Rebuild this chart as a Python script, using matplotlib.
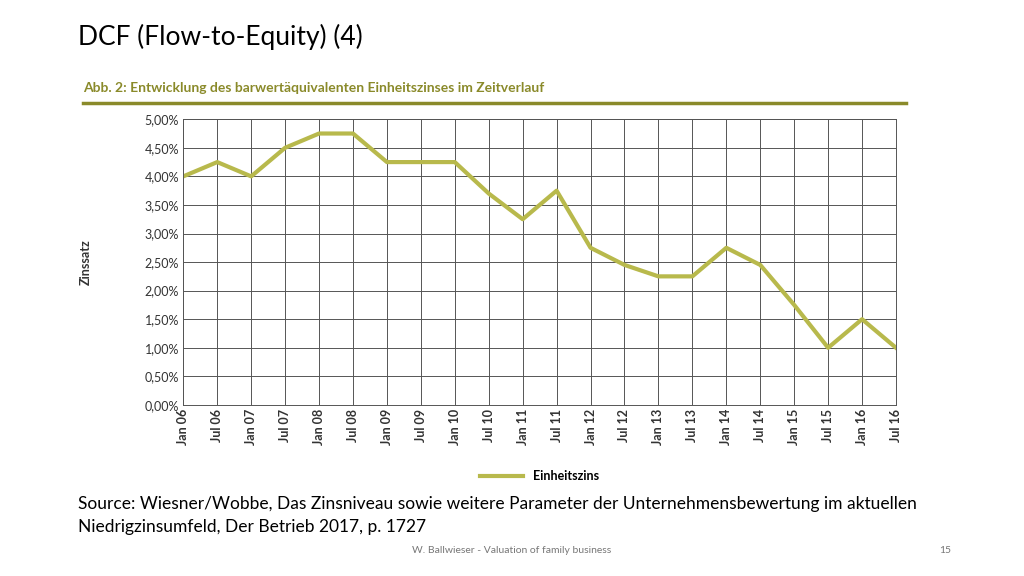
import matplotlib
matplotlib.use("Agg")
import matplotlib.pyplot as plt

plt.rcParams["font.family"] = "Lato"

# data
dates = ["Jan 06", "Jul 06", "Jan 07", "Jul 07", "Jan 08", "Jul 08", "Jan 09", "Jul 09",
         "Jan 10", "Jul 10", "Jan 11", "Jul 11", "Jan 12", "Jul 12", "Jan 13", "Jul 13",
         "Jan 14", "Jul 14", "Jan 15", "Jul 15", "Jan 16", "Jul 16"]
rates = [4.0, 4.25, 4.0, 4.5, 4.75, 4.75, 4.25, 4.25, 4.25, 3.7, 3.25, 3.75,
         2.75, 2.45, 2.25, 2.25, 2.75, 2.45, 1.75, 1.0, 1.5, 1.0]
yticks = [0, 0.5, 1.0, 1.5, 2.0, 2.5, 3.0, 3.5, 4.0, 4.5, 5.0]

line_col = "#b8b94c"
head_col = "#8a8a2a"

fig = plt.figure(figsize=(10.24, 5.76), dpi=100)
ax = fig.add_axes([0.179, 0.297, 0.696, 0.496])
x = list(range(len(dates)))
ax.plot(x, rates, color=line_col, lw=3, label="Einheitszins")
ax.set_xlim(0, len(dates) - 1)
ax.set_ylim(0, 5)
ax.set_xticks(x)
ax.set_xticklabels(dates, rotation=90, fontsize=9, fontweight="bold", color="#333333")
ax.set_yticks(yticks)
ax.set_yticklabels([("%.2f%%" % v).replace(".", ",") for v in yticks], fontsize=9, color="#333333")
ax.grid(True, color="#555555", lw=0.7)
ax.tick_params(length=0, pad=3)
for s in ax.spines.values():
    s.set_color("#555555")
    s.set_linewidth(0.7)
ax.set_ylabel("Zinssatz", fontsize=9, fontweight="bold", color="#333333", labelpad=38)
ax.legend(loc="upper center", bbox_to_anchor=(0.5, -0.19), frameon=False,
          handlelength=3.5, prop={"weight": "bold", "size": 9})

fig.text(0.076, 0.935, "DCF (Flow-to-Equity) (4)", fontsize=19, va="center")
fig.text(0.081, 0.847, "Abb. 2: Entwicklung des barwertäquivalenten Einheitszinses im Zeitverlauf",
         fontsize=10, fontweight="bold", color=head_col, va="center")
fig.add_artist(plt.Line2D([0.081, 0.885], [0.821, 0.821], color=head_col, lw=2.5))
fig.text(0.076, 0.125, "Source: Wiesner/Wobbe, Das Zinsniveau sowie weitere Parameter der Unternehmensbewertung im aktuellen",
         fontsize=12.5, va="center")
fig.text(0.076, 0.085, "Niedrigzinsumfeld, Der Betrieb 2017, p. 1727", fontsize=12.5, va="center")
fig.text(0.5, 0.045, "W. Ballwieser - Valuation of family business", fontsize=7.5,
         color="#777777", ha="center", va="center")
fig.text(0.923, 0.045, "15", fontsize=7.5, color="#777777", ha="center", va="center")

fig.savefig("out.png", dpi=100)
